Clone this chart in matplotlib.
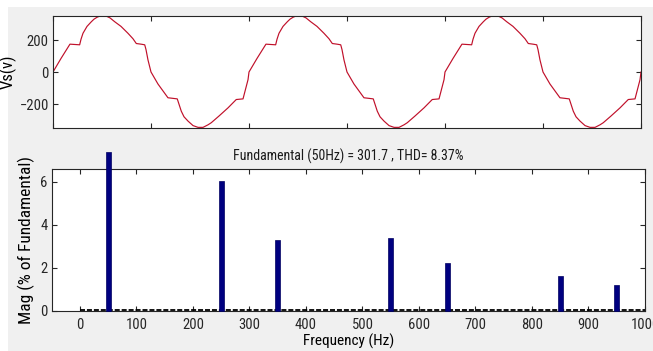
import numpy as np
import matplotlib
matplotlib.use("Agg")
import matplotlib.pyplot as plt
from matplotlib.patches import Rectangle

plt.rcParams['font.family'] = ['Roboto Condensed', 'Liberation Sans', 'DejaVu Sans']
plt.rcParams['lines.scale_dashes'] = False

# ---- Data: source voltage waveform (one 50 Hz cycle) ----
cycle_t_ms = [0.0, 0.82, 1.73, 2.24, 2.72, 2.86, 3.06, 3.47, 3.91, 4.18, 4.49, 4.80,
              5.41, 5.82, 6.30, 6.94, 7.65, 8.16, 8.50, 8.98, 9.36, 9.49, 9.69, 10.0,
              10.71, 11.73, 12.24, 12.68, 13.09, 13.37, 13.78, 14.29, 14.80, 15.31,
              15.82, 16.15, 16.94, 17.86, 18.70, 19.08, 19.39, 19.90, 20.0]
cycle_v = [0, 85, 174, 172, 170, 205, 242, 285, 314, 330, 342, 350,
           350, 338, 314, 285, 242, 208, 178, 174, 170, 140, 76, 0,
           -75, -161, -165, -168, -245, -280, -307, -335, -346, -346,
           -330, -317, -275, -224, -172, -170, -168, -48, 0]
n_cycles = 3
period_ms = 20.0

# ---- Data: harmonic spectrum ----
harm_freq = [50, 250, 350, 550, 650, 850, 950]
harm_mag = [7.4, 6.03, 3.29, 3.40, 2.24, 1.61, 1.19]
baseline_freq = [0, 1000]
baseline_mag = [0.06, 0.06]

title_text = "Fundamental (50Hz) = 301.7 , THD= 8.37%"

t_all, v_all = [], []
for k in range(n_cycles):
    t_all += [(t + k * period_ms) / 1000.0 for t in cycle_t_ms]
    v_all += cycle_v

W, H = 653, 351
fig = plt.figure(figsize=(W / 100, H / 100), dpi=100)
fig.patch.set_facecolor('white')
fig.add_artist(Rectangle((8 / W, 0), 1 - 8 / W, (H - 7) / H, transform=fig.transFigure,
                         facecolor='#f0f0f0', edgecolor='none', zorder=-10))

spine_c = '#262626'

def style(ax):
    for s in ax.spines.values():
        s.set_color(spine_c)
        s.set_linewidth(0.8)
    ax.tick_params(direction='in', length=3.5, width=0.8, color=spine_c,
                   top=True, right=True, labelsize=10.5, labelcolor='#262626', pad=3)
    ax.set_facecolor('white')

# Top axes
ax1 = fig.add_axes([53 / W, (H - 128) / H, (641 - 53) / W, (128 - 16) / H])
ax1.plot(t_all, v_all, color='#c0102a', lw=0.85)
ax1.set_xlim(0, 0.06)
ax1.set_ylim(-350, 350)
ax1.set_xticks(np.arange(0, 0.0601, 0.01))
ax1.set_xticklabels([])
ax1.set_yticks([-200, 0, 200])
ax1.set_ylabel('Vs(v)', fontsize=12, labelpad=2)
style(ax1)

# Bottom axes
ax2 = fig.add_axes([51.7 / W, (H - 311) / H, (645 - 51.7) / W, (311 - 169) / H])
ax2.bar(harm_freq, harm_mag, width=9, color='#000080', edgecolor='#000060',
        linewidth=0.5, clip_on=False, zorder=3)
ax2.plot(baseline_freq, baseline_mag, color='black', lw=1.3, dashes=(3.6, 1.4), zorder=2)
ax2.set_xlim(-50, 1000)
ax2.set_ylim(0, 6.6)
ax2.set_xticks(np.arange(0, 1001, 100))
ax2.set_yticks([0, 2, 4, 6])
ax2.set_ylabel('Mag (% of Fundamental)', fontsize=12.5, labelpad=4)
ax2.set_xlabel('Frequency (Hz)', fontsize=11, labelpad=1)
ax2.set_title(title_text, fontsize=10, pad=6, color='#1a1a1a')
style(ax2)
ax2.tick_params(axis='x', pad=5)

fig.savefig('out.png', dpi=100, facecolor=fig.get_facecolor())
